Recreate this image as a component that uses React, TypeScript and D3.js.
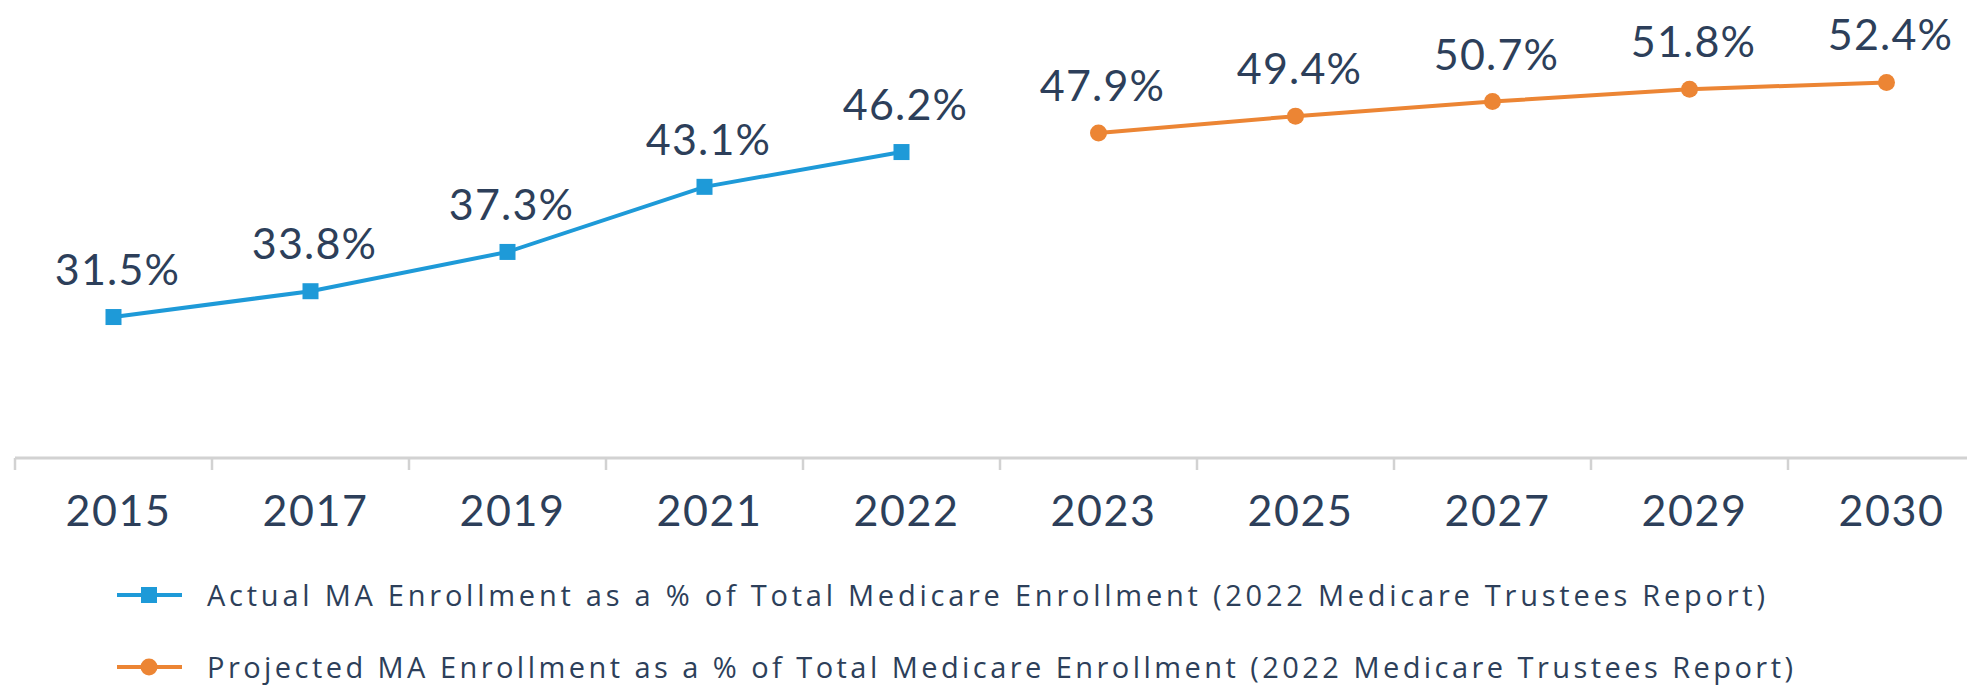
import React from "react";
import * as d3 from "d3";

const years = ["2015", "2017", "2019", "2021", "2022", "2023", "2025", "2027", "2029", "2030"];
const actualYears = ["2015", "2017", "2019", "2021", "2022"];
const actualValues = [31.5, 33.8, 37.3, 43.1, 46.2];
const projectedYears = ["2023", "2025", "2027", "2029", "2030"];
const projectedValues = [47.9, 49.4, 50.7, 51.8, 52.4];
const legendLabels = [
  "Actual MA Enrollment as a % of Total Medicare Enrollment (2022 Medicare Trustees Report)",
  "Projected MA Enrollment as a % of Total Medicare Enrollment (2022 Medicare Trustees Report)",
];

const W = 1967;
const H = 686;
const BLUE = "#1e9ad8";
const ORANGE = "#ec8534";
const TEXT = "#2d3f5a";
const FONT = "Lato, 'Open Sans', sans-serif";
const LEGEND_FONT = "'Open Sans', Lato, sans-serif";

export default function App() {
  const x = d3.scaleBand<string>().domain(years).range([15, 15 + 197 * 10]).padding(0);
  const cx = (yr: string) => (x(yr) as number) + x.bandwidth() / 2;
  const y = d3.scaleLinear().domain([20, 50]).range([446.1, 109.4]);
  const axisY = 458;

  const mkPath = (yrs: string[], vals: number[]) =>
    d3
      .line<[string, number]>()
      .x((d) => cx(d[0]))
      .y((d) => y(d[1]))(yrs.map((yr, i) => [yr, vals[i]] as [string, number])) as string;

  const tickXs = years.map((yr) => x(yr) as number);

  return (
    <svg
      width={W}
      height={H}
      style={{ position: "absolute", left: 0, top: 0, background: "#fff", display: "block" }}
      fontFamily={FONT}
    >
      <rect width={W} height={H} fill="#fff" />
      {/* axis */}
      <line x1={15} x2={W} y1={axisY} y2={axisY} stroke="#d2d2d2" strokeWidth={3} />
      {tickXs.map((tx, i) => (
        <line key={i} x1={tx} x2={tx} y1={axisY} y2={axisY + 12} stroke="#d2d2d2" strokeWidth={2.5} />
      ))}
      {years.map((yr) => (
        <text key={yr} x={cx(yr) + 5} y={526} textAnchor="middle" fontSize={43} letterSpacing={1.5} fill={TEXT}>
          {yr}
        </text>
      ))}

      {/* actual series */}
      <path d={mkPath(actualYears, actualValues)} fill="none" stroke={BLUE} strokeWidth={4} />
      {actualYears.map((yr, i) => (
        <rect key={yr} x={cx(yr) - 8} y={y(actualValues[i]) - 8} width={16} height={16} fill={BLUE} />
      ))}
      {actualYears.map((yr, i) => (
        <text key={yr} x={cx(yr) + 4} y={y(actualValues[i]) - 32} textAnchor="middle" fontSize={43} letterSpacing={1.2} fill={TEXT}>
          {actualValues[i].toFixed(1)}%
        </text>
      ))}

      {/* projected series */}
      <path d={mkPath(projectedYears, projectedValues)} fill="none" stroke={ORANGE} strokeWidth={4} />
      {projectedYears.map((yr, i) => (
        <circle key={yr} cx={cx(yr)} cy={y(projectedValues[i])} r={8.5} fill={ORANGE} />
      ))}
      {projectedYears.map((yr, i) => (
        <text key={yr} x={cx(yr) + 4} y={y(projectedValues[i]) - 32} textAnchor="middle" fontSize={43} letterSpacing={1.2} fill={TEXT}>
          {projectedValues[i].toFixed(1)}%
        </text>
      ))}

      {/* legend */}
      <g fontFamily={LEGEND_FONT}>
        <line x1={117} x2={182} y1={595} y2={595} stroke={BLUE} strokeWidth={4} />
        <rect x={141} y={587} width={16} height={16} fill={BLUE} />
        <text x={207} y={606} fontSize={29} fill={TEXT} textLength={1558} lengthAdjust="spacing">
          {legendLabels[0]}
        </text>
        <line x1={117} x2={182} y1={667} y2={667} stroke={ORANGE} strokeWidth={4} />
        <circle cx={149} cy={667} r={8.5} fill={ORANGE} />
        <text x={207} y={678} fontSize={29} fill={TEXT} textLength={1586} lengthAdjust="spacing">
          {legendLabels[1]}
        </text>
      </g>
    </svg>
  );
}
